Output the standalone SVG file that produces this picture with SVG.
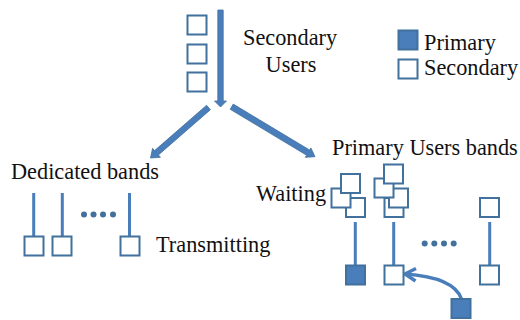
<svg xmlns="http://www.w3.org/2000/svg" width="520" height="320" viewBox="0 0 520 320">
<style>
text{font-family:"Liberation Serif","Times New Roman",serif;font-size:22.3px;fill:#111}
.s{fill:#fff;stroke:#41719c;stroke-width:2}
.p{fill:#4a7ebb;stroke:#41719c;stroke-width:2}
.l{fill:none;stroke:#4a7ebb;stroke-width:3}
.b{fill:#4a7ebb;stroke:#41719c;stroke-width:.8}
.d{fill:#41719c}
</style>
<rect width="520" height="320" fill="#fff"/>
<g id="connectors">
<polygon class="b" points="217.8,10 223.2,10 223.2,101 226.5,101 220.5,107 214.5,101 217.8,101"/>
<polygon class="b" points="233.200,104.100 230.200,109.300 306.600,155.200 305.300,157.300 315,156.700 310.900,147.900 309.600,150"/>
<polygon class="b" points="206.600,105.300 210.400,109.700 158.400,155 160.400,157.300 150.500,158 152.600,148.300 154.600,150.600"/>
<path class="l" d="M33.7 193V236M62.3 193V236M129.5 193V236"/>
<path class="l" d="M355.3 222V265M393.7 222V265M489.7 222V265"/>
<path d="M461.500 299C456 283 435 276 405 274" fill="none" stroke="#4a7ebb" stroke-width="3.500"/>
<path d="M416 268.500L405 274L415.500 281" fill="none" stroke="#4a7ebb" stroke-width="3.500"/>
</g>
<g id="secondary-users">
<rect class="s" x="187.500" y="15.500" width="19" height="19"/>
<rect class="s" x="187.500" y="44.500" width="19" height="19"/>
<rect class="s" x="187.500" y="72.500" width="19" height="19"/>
<text x="243" y="45">Secondary</text>
<text x="291" y="72" text-anchor="middle">Users</text>
</g>
<g id="legend">
<rect class="p" x="398.500" y="30.500" width="19" height="19"/>
<rect class="s" x="398.500" y="59.500" width="19" height="19"/>
<text x="424" y="50">Primary</text>
<text x="424" y="75">Secondary</text>
</g>
<g id="dedicated-bands">
<text x="11" y="179">Dedicated bands</text>
<rect class="s" x="24.500" y="236.500" width="19" height="19"/>
<rect class="s" x="52.500" y="236.500" width="19" height="19"/>
<rect class="s" x="120.500" y="236.500" width="19" height="19"/>
<circle class="d" cx="84" cy="214.500" r="3"/><circle class="d" cx="93.500" cy="214.500" r="3"/><circle class="d" cx="103" cy="214.500" r="3"/><circle class="d" cx="113" cy="214.500" r="3"/>
<text x="156" y="252">Transmitting</text>
</g>
<g id="primary-users-bands">
<text x="332" y="155">Primary Users bands</text>
<text x="256" y="201">Waiting</text>
<rect class="s" x="346" y="198" width="19" height="19"/>
<rect class="s" x="331.500" y="188.500" width="19" height="19"/>
<rect class="s" x="341" y="174" width="19" height="19"/>
<rect class="s" x="384.500" y="198" width="19" height="19"/>
<rect class="s" x="389" y="188.500" width="19" height="19"/>
<rect class="s" x="374.500" y="178.500" width="19" height="19"/>
<rect class="s" x="384" y="164.500" width="19" height="19"/>
<rect class="s" x="480" y="198" width="19" height="19"/>
<rect class="p" x="346" y="265.500" width="19" height="19"/>
<rect class="s" x="384.500" y="265.500" width="19" height="19"/>
<rect class="s" x="480" y="265.500" width="19" height="19"/>
<rect class="p" x="451.500" y="299" width="19" height="19"/>
<circle class="d" cx="424.700" cy="243.500" r="3"/><circle class="d" cx="434.300" cy="243.500" r="3"/><circle class="d" cx="444" cy="243.500" r="3"/><circle class="d" cx="453.700" cy="243.500" r="3"/>
</g>
</svg>
